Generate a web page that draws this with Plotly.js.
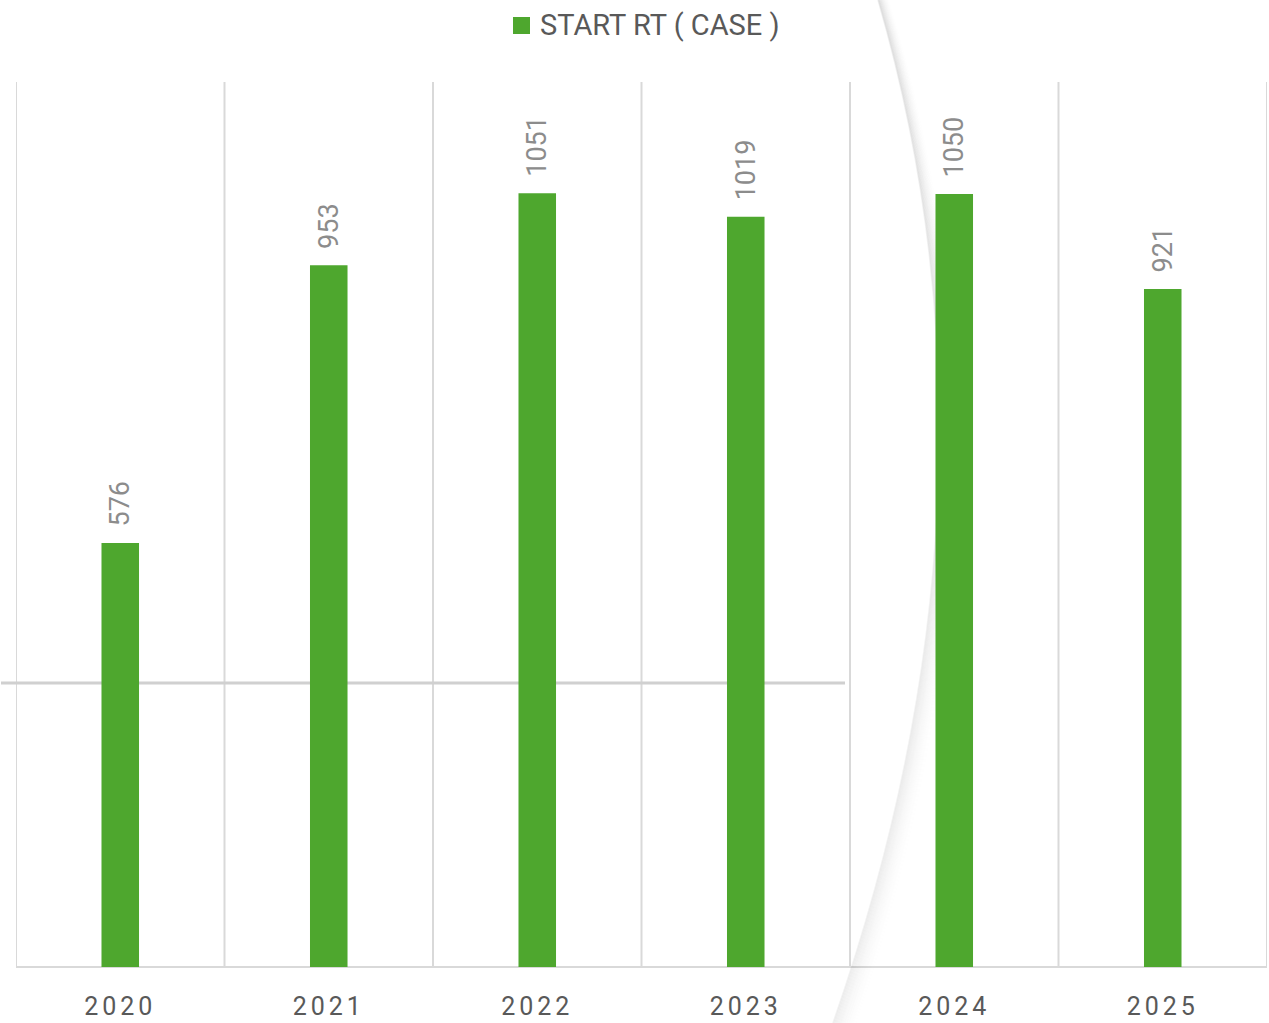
<!DOCTYPE html>
<html>
<head>
<meta charset="utf-8">
<script src="https://cdn.plot.ly/plotly-3.0.1.min.js"></script>
<style>
  html, body { margin: 0; padding: 0; background: #fff; }
  #chart { width: 1269px; height: 1023px; }
  .xtick text { letter-spacing: 4px; }
</style>
</head>
<body>
<div id="chart"></div>
<script>
// ---- data ----
const categories = ["2020", "2021", "2022", "2023", "2024", "2025"];
const seriesName = "START RT ( CASE )";
const values = [576, 953, 1051, 1019, 1050, 921];

// ---- geometry helpers (pixel -> paper) ----
const W = 1269, H = 1023;
const M = { l: 16, r: 2, t: 82, b: 56 };
const PW = W - M.l - M.r, PH = H - M.t - M.b;
const px = x => (x - M.l) / PW;
const py = y => 1 - (y - M.t) / PH;

const shapes = [];
// category boundary gridlines
for (let i = 0; i <= categories.length; i++) {
  shapes.push({
    type: "line", layer: "below", xref: "x", yref: "paper",
    x0: i - 0.5, x1: i - 0.5, y0: 0, y1: 1,
    line: { color: "#d9d9d9", width: 2 }
  });
}
// bottom axis line
shapes.push({
  type: "line", layer: "below", xref: "x", yref: "paper",
  x0: -0.5, x1: categories.length - 0.5, y0: 0, y1: 0,
  line: { color: "#d9d9d9", width: 2 }
});
// decorative horizontal line
shapes.push({
  type: "line", layer: "below", xref: "paper", yref: "paper",
  x0: px(1), x1: px(845), y0: py(683), y1: py(683),
  line: { color: "#d0d0d0", width: 3 }
});
// decorative curved shadow
const N = 26;
for (let k = 0; k < N; k++) {
  const f = k / N;
  const dxTop = f * 14, dxBot = f * 30;
  const p0 = [px(878 + dxTop), py(0)];
  const p1 = [px(1020 + (dxTop + dxBot) / 2), py(488)];
  const p2 = [px(833 + dxBot), py(1023)];
  const a = 0.05 * (1 - f) * (1 - f);
  shapes.push({
    type: "path", layer: "below", xref: "paper", yref: "paper",
    path: `M ${p0[0]} ${p0[1]} Q ${p1[0]} ${p1[1]} ${p2[0]} ${p2[1]}`,
    line: { color: `rgba(0,0,0,${a.toFixed(4)})`, width: 1.6 }
  });
}
// legend swatch
shapes.push({
  type: "rect", xref: "paper", yref: "paper",
  x0: px(513), x1: px(530), y0: py(34), y1: py(17),
  fillcolor: "#4EA72E", line: { width: 0 }
});

const annotations = [{
  xref: "paper", yref: "paper", x: px(538), y: py(25),
  xanchor: "left", yanchor: "middle", showarrow: false,
  text: seriesName,
  font: { family: "Roboto, sans-serif", size: 29, color: "#595959" }
}];

const trace = {
  type: "bar", name: seriesName, x: categories, y: values,
  marker: { color: "#4EA72E" }, width: 0.18, showlegend: false,
  text: values.map(v => "\u00a0\u00a0" + v), textposition: "outside", textangle: -90,
  cliponaxis: false, constraintext: "none",
  textfont: { family: "Roboto, sans-serif", size: 27, color: "#8c8c8c" },
  hoverinfo: "x+y"
};

const layout = {
  width: W, height: H,
  margin: M,
  paper_bgcolor: "#ffffff", plot_bgcolor: "rgba(0,0,0,0)",
  font: { family: "Roboto, sans-serif", color: "#595959" },
  showlegend: false,
  xaxis: {
    type: "category", range: [-0.5, 5.5], showgrid: false, zeroline: false,
    showline: false, ticks: "", tickfont: { size: 25, color: "#595959" },
    ticklabelstandoff: 22, fixedrange: true
  },
  yaxis: {
    range: [0, 1202], showgrid: false, zeroline: false, showline: false,
    showticklabels: false, ticks: "", fixedrange: true
  },
  shapes: shapes,
  annotations: annotations
};

Plotly.newPlot("chart", [trace], layout, { displayModeBar: false, staticPlot: true });
</script>
</body>
</html>
